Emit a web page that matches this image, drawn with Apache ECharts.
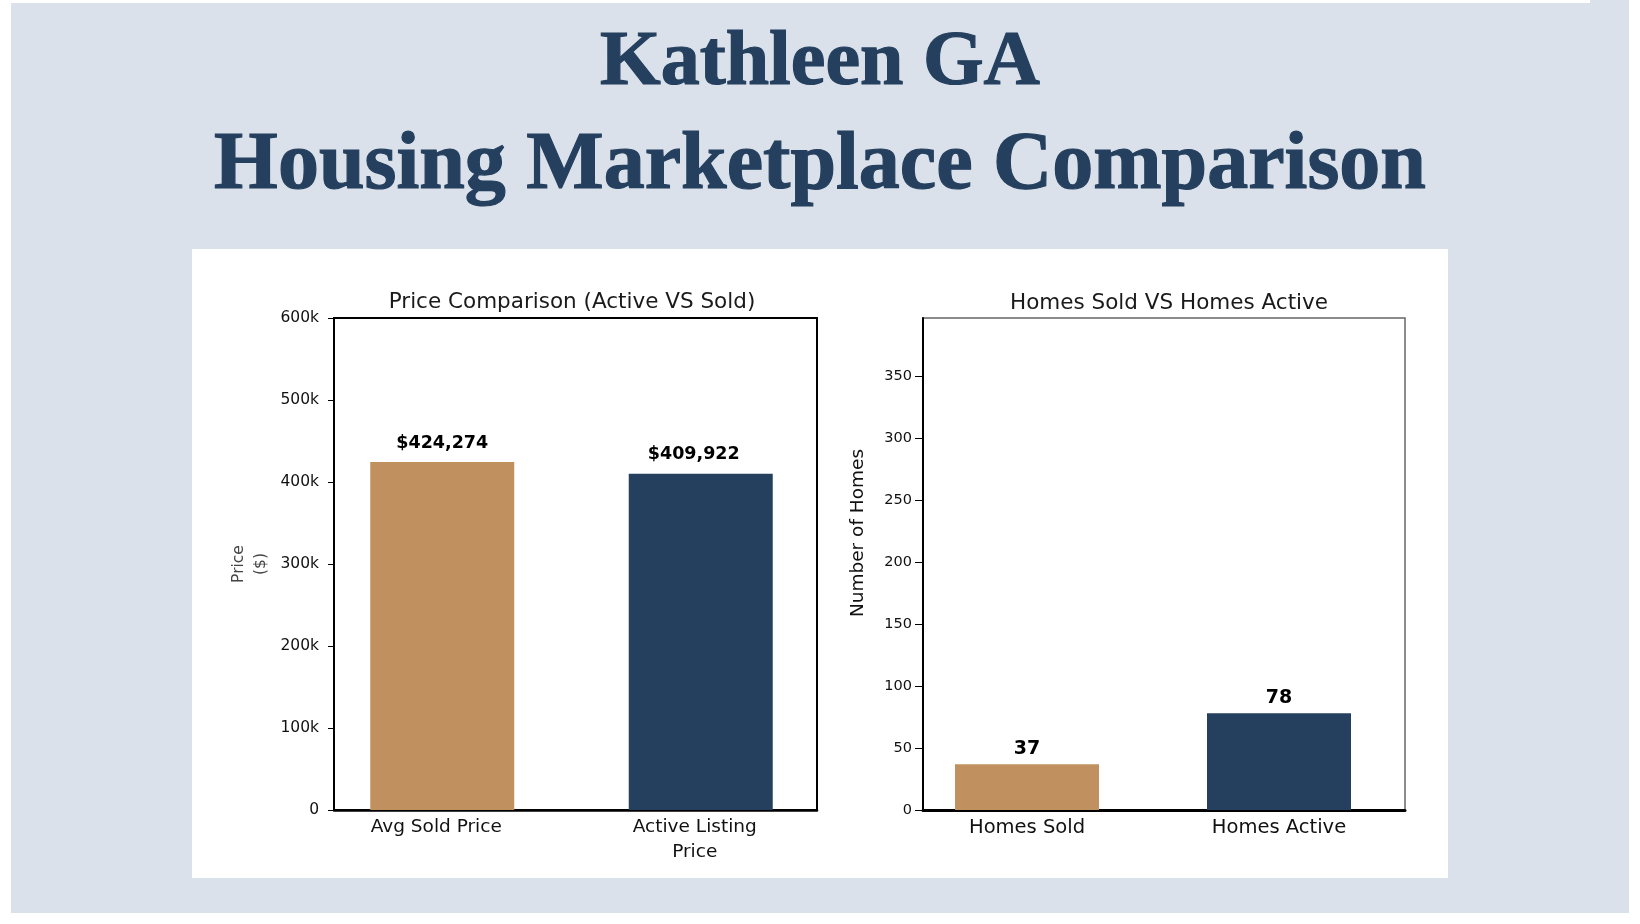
<!DOCTYPE html>
<html>
<head>
<meta charset="utf-8">
<script src="https://cdn.jsdelivr.net/npm/echarts@6/dist/echarts.min.js"></script>
<style>
html, body { margin: 0; padding: 0; background: #ffffff; }
#main { width: 1640px; height: 924px; }
</style>
</head>
<body>
<div id="main"></div>
<script>
// values
var priceCategories = ['Avg Sold Price', 'Active Listing\nPrice'];
var priceValues = [424274, 409922];
var priceTicks = [0, 100000, 200000, 300000, 400000, 500000, 600000];

var homeCategories = ['Homes Sold', 'Homes Active'];
var homeValues = [37, 78];
var homeTicks = [0, 50, 100, 150, 200, 250, 300, 350];

var barColors = ['#c0905f', '#25405f'];

var font = 'DejaVu Sans';
var navy = '#25405f';

function colored(values, labelShift) {
    return values.map(function (v, i) {
        return { value: v, itemStyle: { color: barColors[i] }, label: { offset: [labelShift[i], 0] } };
    });
}

var myecharts = echarts.init(document.getElementById('main'));
var option = {
    animation: false,
    textStyle: { fontFamily: font },
    graphic: [
        { type: 'rect', shape: { x: 11, y: 3, width: 1618, height: 910 }, style: { fill: '#dae1ea' }, z: -10 },
        { type: 'rect', shape: { x: 1590, y: 0, width: 39, height: 4 }, style: { fill: '#dae1ea' }, z: -10 },
        { type: 'rect', shape: { x: 192, y: 249, width: 1256, height: 629 }, style: { fill: '#ffffff' }, z: -9 },
        {
            type: 'text', x: 820, y: 64, z: 10,
            style: {
                text: 'Kathleen GA', fill: navy, stroke: navy, lineWidth: 1.2,
                align: 'center', verticalAlign: 'middle',
                font: 'bold 78px "Liberation Serif"'
            }
        },
        {
            type: 'text', x: 820, y: 167, z: 10,
            style: {
                text: 'Housing Marketplace Comparison', fill: navy, stroke: navy, lineWidth: 1.2,
                align: 'center', verticalAlign: 'middle',
                font: 'bold 82px "Liberation Serif"'
            }
        }
    ],
    title: [
        {
            text: 'Price Comparison (Active VS Sold)', left: 567, top: 286, textAlign: 'center',
            textStyle: { fontFamily: font, fontSize: 21.5, fontWeight: 'normal', color: '#1a1a1a' }
        },
        {
            text: 'Homes Sold VS Homes Active', left: 1164, top: 287, textAlign: 'center',
            textStyle: { fontFamily: font, fontSize: 21.5, fontWeight: 'normal', color: '#1a1a1a' }
        }
    ],
    grid: [
        // frames with the y axes
        { left: 334, top: 318, width: 483, height: 492, show: true, borderColor: '#000', borderWidth: 2, backgroundColor: 'transparent' },
        { left: 923, top: 318, width: 482, height: 492, show: true, borderColor: '#666', borderWidth: 1.5, backgroundColor: 'transparent' },
        // bar areas
        { left: 313, top: 318, width: 517, height: 492 },
        { left: 901, top: 318, width: 504, height: 492 }
    ],
    xAxis: [
        { gridIndex: 0, type: 'category', data: priceCategories, axisLine: { show: true, lineStyle: { color: '#000', width: 2.5 } }, axisTick: { show: false }, axisLabel: { show: false } },
        { gridIndex: 1, type: 'category', data: homeCategories, axisLine: { show: true, lineStyle: { color: '#000', width: 3 } }, axisTick: { show: false }, axisLabel: { show: false } },
        {
            gridIndex: 2, type: 'category', data: priceCategories,
            axisLine: { show: false }, axisTick: { show: false },
            axisLabel: { fontFamily: font, fontSize: 18.5, color: '#111', margin: 5, lineHeight: 25, padding: [0, 12, 0, 0] }
        },
        {
            gridIndex: 3, type: 'category', data: homeCategories,
            axisLine: { show: false }, axisTick: { show: false },
            axisLabel: { fontFamily: font, fontSize: 19.5, color: '#111', margin: 8 }
        }
    ],
    yAxis: [
        {
            gridIndex: 0, type: 'value', min: 0, max: 600000,
            name: 'Price\n($)', nameLocation: 'middle', nameGap: 62, nameRotate: 90,
            nameTextStyle: { fontFamily: font, fontSize: 15.5, color: '#444', lineHeight: 22 },
            axisLine: { show: true, lineStyle: { color: '#000', width: 2 } },
            axisTick: { show: true, length: 6, customValues: priceTicks, lineStyle: { color: '#000' } },
            axisLabel: {
                customValues: priceTicks, margin: 15, fontFamily: font, fontSize: 15.5, color: '#111',
                formatter: function (v) { return v === 0 ? '0' : (v / 1000) + 'k'; }
            },
            splitLine: { show: false }
        },
        {
            gridIndex: 1, type: 'value', min: 0, max: 397,
            name: 'Number of Homes', nameLocation: 'middle', nameGap: 55, nameRotate: 90,
            nameTextStyle: { fontFamily: font, fontSize: 18.5, color: '#111', padding: [0, 0, 0, 62] },
            axisLine: { show: true, lineStyle: { color: '#000', width: 2 } },
            axisTick: { show: true, length: 8, customValues: homeTicks, lineStyle: { color: '#000' } },
            axisLabel: { customValues: homeTicks, margin: 11, fontFamily: font, fontSize: 14.5, color: '#111' },
            splitLine: { show: false }
        },
        { gridIndex: 2, type: 'value', min: 0, max: 600000, show: false, splitLine: { show: false } },
        { gridIndex: 3, type: 'value', min: 0, max: 397, show: false, splitLine: { show: false } }
    ],
    series: [
        {
            name: 'Price', type: 'bar', xAxisIndex: 2, yAxisIndex: 2, barWidth: 144,
            data: colored(priceValues, [0, -7]),
            label: {
                show: true, position: 'top', distance: 10,
                fontFamily: font, fontSize: 17.5, fontWeight: 'bold', color: '#000',
                formatter: function (p) { return '$' + p.value.toLocaleString('en-US'); }
            }
        },
        {
            name: 'Homes', type: 'bar', xAxisIndex: 3, yAxisIndex: 3, barWidth: 144,
            data: colored(homeValues, [0, 0]),
            label: {
                show: true, position: 'top', distance: 6,
                fontFamily: font, fontSize: 19, fontWeight: 'bold', color: '#000'
            }
        }
    ]
};
myecharts.setOption(option);
</script>
</body>
</html>
